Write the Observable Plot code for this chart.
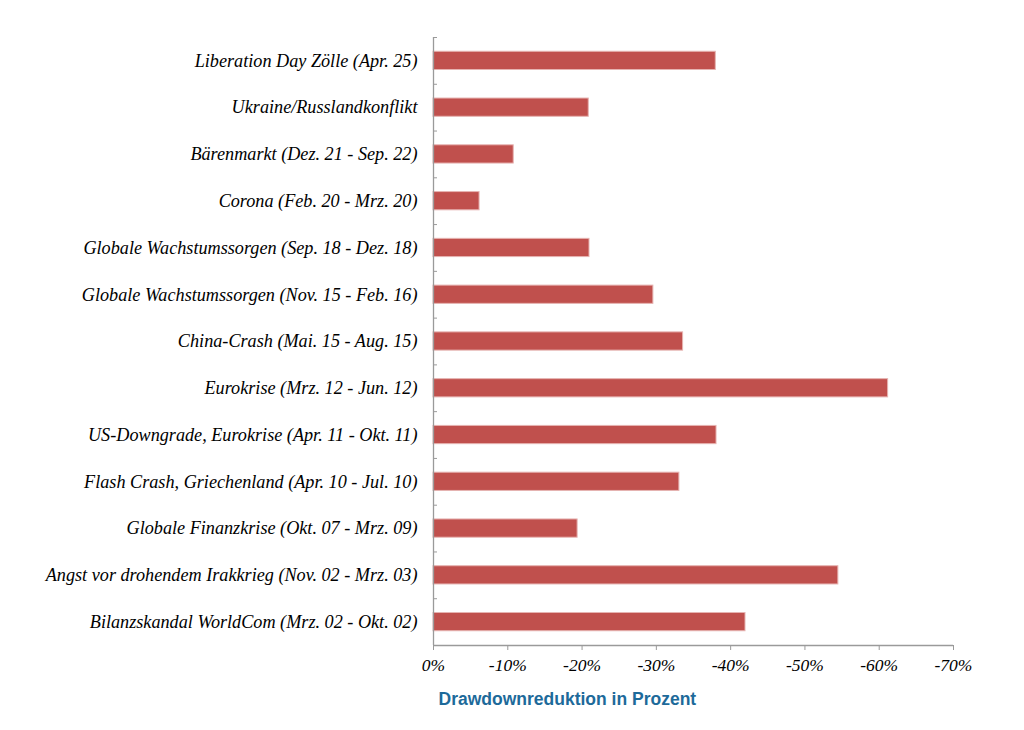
<!DOCTYPE html>
<html><head><meta charset="utf-8">
<script src="https://cdn.jsdelivr.net/npm/d3@7"></script>
<script src="https://cdn.jsdelivr.net/npm/@observablehq/plot@0.6"></script>
<style>body{margin:0;background:#fff}</style>
</head><body><div id="chart"></div>
<script>
const categories = [
  "Liberation Day Zölle (Apr. 25)",
  "Ukraine/Russlandkonflikt",
  "Bärenmarkt (Dez. 21 - Sep. 22)",
  "Corona (Feb. 20 - Mrz. 20)",
  "Globale Wachstumssorgen (Sep. 18 - Dez. 18)",
  "Globale Wachstumssorgen (Nov. 15 - Feb. 16)",
  "China-Crash (Mai. 15 - Aug. 15)",
  "Eurokrise (Mrz. 12 - Jun. 12)",
  "US-Downgrade, Eurokrise (Apr. 11 - Okt. 11)",
  "Flash Crash, Griechenland (Apr. 10 - Jul. 10)",
  "Globale Finanzkrise (Okt. 07 - Mrz. 09)",
  "Angst vor drohendem Irakkrieg (Nov. 02 - Mrz. 03)",
  "Bilanzskandal WorldCom (Mrz. 02 - Okt. 02)"
];
const values = [-38.0, -20.9, -10.8, -6.2, -21.0, -29.6, -33.6, -61.2, -38.1, -33.1, -19.4, -54.5, -42.0];
const xTicks = [0, -10, -20, -30, -40, -50, -60, -70];
const axisTitle = "Drawdownreduktion in Prozent";

const rows = categories.map((c, i) => ({label: c, value: values[i], i}));
const half = 0.195;
const boundaries = d3.range(categories.length + 1);
const grey = "#9a9a9a";

const chart = Plot.plot({
  width: 1024, height: 730,
  marginLeft: 433, marginRight: 71, marginTop: 37, marginBottom: 85,
  x: {domain: [0, -70]},
  y: {domain: [0, categories.length], reverse: true},
  style: {fontFamily: "'Liberation Serif', serif", background: "#fff", color: "#000"},
  marks: [
    Plot.rectX(rows, {x1: 0, x2: "value", y1: d => d.i + 0.5 - half, y2: d => d.i + 0.5 + half,
      fill: "#c0504d", stroke: "#e6b3b1", strokeWidth: 1}),
    Plot.ruleX([0], {stroke: grey, strokeWidth: 1.3}),
    Plot.ruleY([categories.length], {stroke: grey, strokeWidth: 1.3}),
    Plot.axisY(boundaries, {tickSize: -4, stroke: grey, tickFormat: () => "", label: null}),
    Plot.text(rows, {x: 0, y: d => d.i + 0.5, text: "label", textAnchor: "end", dx: -16,
      fontStyle: "italic", fontSize: 18.2, fill: "#000"}),
    Plot.axisX(xTicks, {tickSize: 5, stroke: grey, tickFormat: d => d + "%", fontStyle: "italic",
      fontSize: 17.5, tickPadding: 8, label: null, fill: "#000"}),
    Plot.text([axisTitle], {frameAnchor: "bottom-left", dx: 5, dy: 54, lineAnchor: "middle", textAnchor: "start",
      fontFamily: "'Liberation Sans', Arial, sans-serif", fontWeight: "bold", fontSize: 17.5, fill: "#1d6a9a"})
  ]
});
document.getElementById("chart").appendChild(chart);
</script>
</body></html>
